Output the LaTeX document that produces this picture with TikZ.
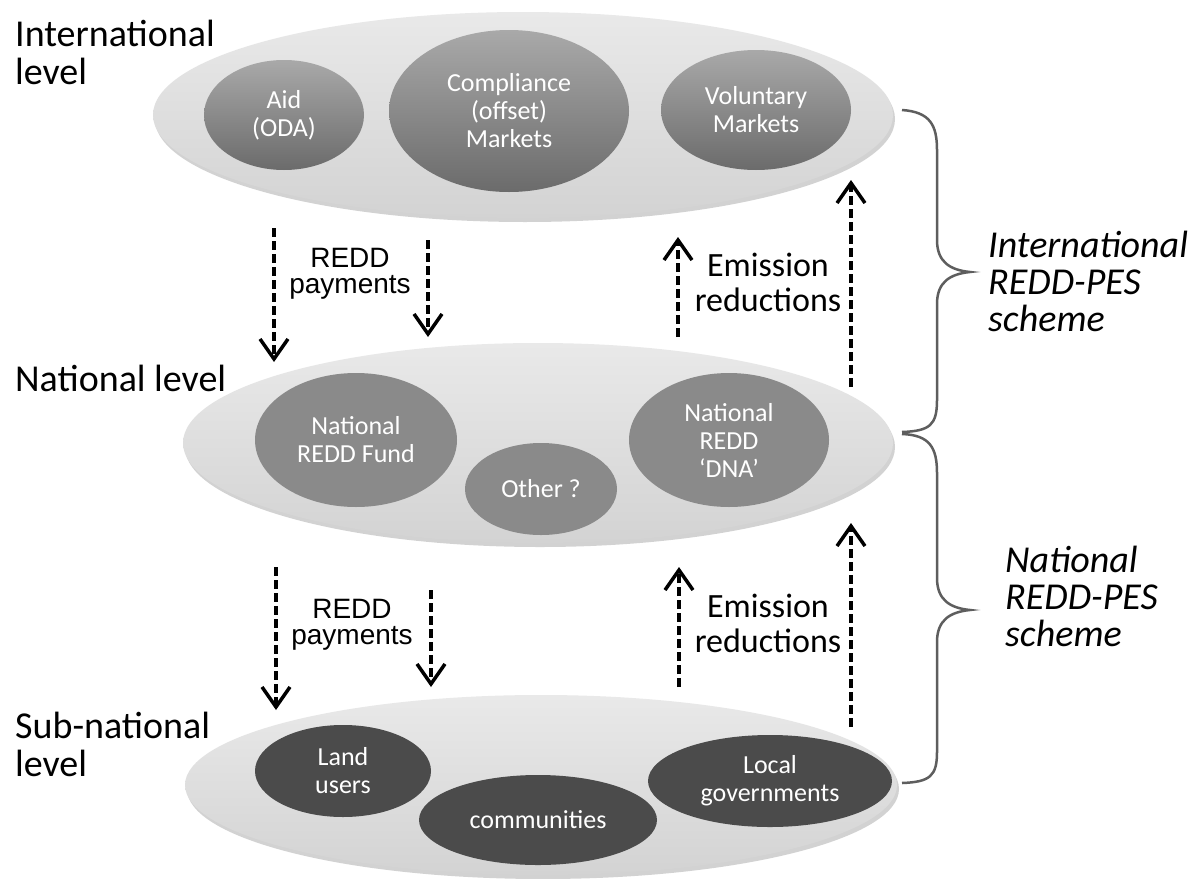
\documentclass[tikz,border=0pt]{standalone}
\usepackage{fontspec}
\setmainfont{Carlito}
\newfontfamily\paymentsfont{Liberation Sans}
\usetikzlibrary{shapes.geometric,shadows,arrows.meta}

\definecolor{ringtop}{HTML}{E9E9E9}
\definecolor{ringbot}{HTML}{D3D3D3}
\definecolor{intltop}{HTML}{A9A9A9}
\definecolor{intlbot}{HTML}{6B6B6B}
\definecolor{natgray}{HTML}{8A8A8A}
\definecolor{subgray}{HTML}{4B4B4B}
\definecolor{bracegray}{HTML}{5E5E5E}

\tikzset{
  ring/.style={ellipse, inner sep=0pt, top color=ringtop, bottom color=ringbot,
    drop shadow={shadow xshift=2pt, shadow yshift=-4pt, opacity=0.35}},
  actor/.style={ellipse, inner sep=0pt, align=center, text=white,
    font=\fontsize{26}{28}\selectfont},
  intlactor/.style={actor, top color=intltop, bottom color=intlbot},
  natactor/.style={actor, fill=natgray},
  subactor/.style={actor, fill=subgray},
  levellabel/.style={inner sep=0pt, anchor=north west, align=left,
    font=\fontsize{38}{38}\selectfont},
  schemelabel/.style={levellabel, font=\fontsize{38}{37}\selectfont\itshape},
  paylabel/.style={inner sep=0pt, anchor=north, align=center,
    font=\paymentsfont\fontsize{28}{26}\selectfont},
  emislabel/.style={inner sep=0pt, anchor=north, align=center,
    font=\fontsize{34}{35}\selectfont},
  flow/.style={line width=4pt, dash pattern=on 9pt off 4pt,
    -{Straight Barb[length=20pt, width=28pt, line width=3.5pt]}},
  schemebrace/.style={draw=bracegray, line width=2.5pt}
}

\begin{document}
\begin{tikzpicture}[x=1pt, y=-1pt]
\path[use as bounding box, fill=white] (0,0) rectangle (1201,878);

% levels
\node[ring, minimum width=740pt, minimum height=206pt] (intl) at (523,115) {};
\node[ring, minimum width=710pt, minimum height=200pt] (nat) at (538,443) {};
\node[ring, minimum width=712pt, minimum height=180pt] (sub) at (541,785) {};

% international actors
\node[intlactor, minimum width=160pt, minimum height=110pt] (aid) at (284,115) {Aid\\(ODA)};
\node[intlactor, minimum width=240pt, minimum height=162pt] (compliance) at (509,111) {Compliance\\(offset)\\Markets};
\node[intlactor, minimum width=190pt, minimum height=120pt] (voluntary) at (756,110) {Voluntary\\Markets};

% national actors
\node[natactor, minimum width=202pt, minimum height=134pt] (fund) at (356,440) {National\\REDD Fund};
\node[natactor, minimum width=152pt, minimum height=92pt] (other) at (541,489) {Other ?};
\node[natactor, minimum width=200pt, minimum height=134pt] (dna) at (729,440) {National\\REDD\\‘DNA’};

% sub-national actors
\node[subactor, minimum width=176pt, minimum height=92pt] (land) at (343,771) {Land\\users};
\node[subactor, minimum width=238pt, minimum height=90pt] (communities) at (538,820) {communities};
\node[subactor, minimum width=244pt, minimum height=92pt] (localgov) at (770,781) {Local\\governments};

% level names
\node[levellabel] (intllabel) at (15,20) {International\\level};
\node[levellabel] (natlabel) at (15,365) {National level};
\node[levellabel] (sublabel) at (15,712) {Sub-national\\level};

% scheme names
\node[schemelabel] (intlscheme) at (988,231) {International\\REDD-PES\\scheme};
\node[schemelabel] (natscheme) at (1005,546) {National\\REDD-PES\\scheme};

% flow labels
\node[paylabel] (pay1) at (350,248) {REDD\\payments};
\node[paylabel] (pay2) at (352,599) {REDD\\payments};
\node[emislabel] (emis1) at (768,253) {Emission\\reductions};
\node[emislabel] (emis2) at (768,594) {Emission\\reductions};

% flow ends
\coordinate (pay1a) at (274,228); \coordinate (pay1a') at (274,362);
\coordinate (pay1b) at (428,240); \coordinate (pay1b') at (428,337);
\coordinate (pay2a) at (276,567); \coordinate (pay2a') at (276,710);
\coordinate (pay2b) at (431,590); \coordinate (pay2b') at (431,687);
\coordinate (emis1a) at (678,337); \coordinate (emis1a') at (678,237);
\coordinate (emis1b) at (851,387); \coordinate (emis1b') at (851,180);
\coordinate (emis2a) at (679,687); \coordinate (emis2a') at (679,567);
\coordinate (emis2b) at (851,727); \coordinate (emis2b') at (851,523);

\foreach \f in {pay1a,pay1b,pay2a,pay2b,emis1a,emis1b,emis2a,emis2b}
  \draw[flow] (\f) -- (\f');

% braces
\draw[schemebrace] (902,110) .. controls (930,112) and (937,125) .. (937,150)
  -- (937,240) .. controls (937,262) and (950,270) .. (970,272)
  .. controls (950,274) and (937,282) .. (937,304)
  -- (937,400) .. controls (937,425) and (930,431) .. (902,432);
\draw[schemebrace] (902,434) .. controls (930,435) and (937,448) .. (937,473)
  -- (937,578) .. controls (937,600) and (950,608) .. (970,610)
  .. controls (950,612) and (937,620) .. (937,642)
  -- (937,752) .. controls (937,776) and (930,782) .. (902,783);
\end{tikzpicture}
\end{document}
